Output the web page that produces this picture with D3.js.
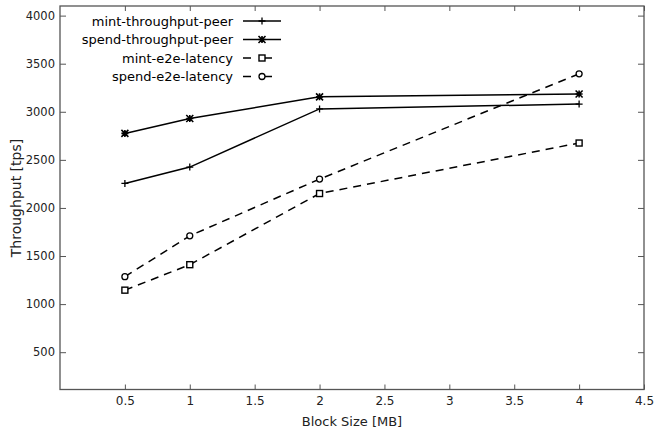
<!DOCTYPE html>
<html>
<head>
<meta charset="utf-8">
<script src="https://cdn.jsdelivr.net/npm/d3@7"></script>
<style>
body { margin: 0; background: #fff; }
text { font-family: "DejaVu Sans", sans-serif; }
</style>
</head>
<body>
<div id="chart"></div>
<script>
var blockSizes = [0.5, 1, 2, 4];
var mintThroughput = [2255, 2425, 3030, 3080];
var spendThroughput = [2775, 2930, 3155, 3185];
var mintLatency = [1145, 1410, 2150, 2675];
var spendLatency = [1285, 1710, 2300, 3395];
var xTicks = [0.5, 1, 1.5, 2, 2.5, 3, 3.5, 4, 4.5];
var yTicks = [500, 1000, 1500, 2000, 2500, 3000, 3500, 4000];

var series = [
	{name: "mint-throughput-peer", values: mintThroughput, dashed: false, mark: "plus"},
	{name: "spend-throughput-peer", values: spendThroughput, dashed: false, mark: "star"},
	{name: "mint-e2e-latency", values: mintLatency, dashed: true, mark: "square"},
	{name: "spend-e2e-latency", values: spendLatency, dashed: true, mark: "circle"}
];

var width = 655, height = 432;
var plotLeft = 60, plotRight = 644, plotTop = 6, plotBottom = 389.5;

var svg = d3.select("#chart").append("svg")
		.attr("width", width)
		.attr("height", height);

var x = d3.scaleLinear().domain([0, 4.5]).range([plotLeft, plotRight]);
var y = d3.scaleLinear().domain([112, 4100]).range([plotBottom, plotTop]);

// axes (ticks inside, mirrored)
var axisColor = "#555";
svg.append("g")
		.attr("transform", "translate(0," + plotBottom + ")")
		.call(d3.axisBottom(x).tickValues(xTicks).tickSizeInner(-5).tickSizeOuter(0).tickPadding(7).tickFormat(d3.format("")))
		.call(function(g) {
			g.select(".domain").remove();
			g.selectAll("line").attr("stroke", axisColor);
			g.selectAll("text").attr("font-size", 12).attr("fill", "#222");
		});
svg.append("g")
		.attr("transform", "translate(0," + plotTop + ")")
		.call(d3.axisTop(x).tickValues(xTicks).tickSizeInner(-5).tickSizeOuter(0).tickFormat(""))
		.call(function(g) {
			g.select(".domain").remove();
			g.selectAll("line").attr("stroke", axisColor);
		});
svg.append("g")
		.attr("transform", "translate(" + plotLeft + ",0)")
		.call(d3.axisLeft(y).tickValues(yTicks).tickSizeInner(-6).tickSizeOuter(0).tickPadding(5).tickFormat(d3.format("d")))
		.call(function(g) {
			g.select(".domain").remove();
			g.selectAll("line").attr("stroke", axisColor);
			g.selectAll("text").attr("font-size", 11.5).attr("fill", "#222");
		});
svg.append("g")
		.attr("transform", "translate(" + plotRight + ",0)")
		.call(d3.axisRight(y).tickValues(yTicks).tickSizeInner(-6).tickSizeOuter(0).tickFormat(""))
		.call(function(g) {
			g.select(".domain").remove();
			g.selectAll("line").attr("stroke", axisColor);
		});

svg.append("rect")
		.attr("x", plotLeft).attr("y", plotTop)
		.attr("width", plotRight - plotLeft).attr("height", plotBottom - plotTop)
		.attr("fill", "none")
		.attr("stroke", axisColor)
		.attr("stroke-width", 1.3);

svg.append("text")
		.attr("x", 352).attr("y", 426)
		.attr("text-anchor", "middle")
		.attr("font-size", 13)
		.attr("fill", "#222")
		.text("Block Size [MB]");
svg.append("text")
		.attr("transform", "translate(20.5,198) rotate(-90)")
		.attr("text-anchor", "middle")
		.attr("font-size", 14)
		.attr("fill", "#222")
		.text("Throughput [tps]");

function drawMark(g, type, cx, cy) {
	var s = 3.5;
	if (type == "plus") {
		g.append("path").attr("d", "M" + (cx - s) + "," + cy + "H" + (cx + s) + "M" + cx + "," + (cy - s) + "V" + (cy + s))
				.attr("stroke", "#000").attr("stroke-width", 1.3);
	} else if (type == "star") {
		g.append("path").attr("d", "M" + (cx - s) + "," + cy + "H" + (cx + s) + "M" + cx + "," + (cy - s) + "V" + (cy + s)
				+ "M" + (cx - s) + "," + (cy - s) + "L" + (cx + s) + "," + (cy + s)
				+ "M" + (cx - s) + "," + (cy + s) + "L" + (cx + s) + "," + (cy - s))
				.attr("stroke", "#000").attr("stroke-width", 1.6);
	} else if (type == "square") {
		g.append("rect").attr("x", cx - 3).attr("y", cy - 3).attr("width", 6).attr("height", 6)
				.attr("fill", "#fff").attr("stroke", "#000").attr("stroke-width", 1.4);
	} else {
		g.append("circle").attr("cx", cx).attr("cy", cy).attr("r", 3)
				.attr("fill", "#fff").attr("stroke", "#000").attr("stroke-width", 1.3);
	}
}

var line = d3.line()
		.x(function(d) {return x(d.x);})
		.y(function(d) {return y(d.y);});

var plot = svg.append("g");
series.forEach(function(s) {
	var pts = blockSizes.map(function(b, i) {return {x: b, y: s.values[i]};});
	plot.append("path")
			.datum(pts)
			.attr("d", line)
			.attr("fill", "none")
			.attr("stroke", "#000")
			.attr("stroke-width", 1.5)
			.attr("stroke-dasharray", s.dashed ? "8,6" : null);
	pts.forEach(function(p) {
		drawMark(plot, s.mark, x(p.x), y(p.y));
	});
});

// legend
var legend = svg.append("g");
var rowY = [21, 39.5, 58, 76.5];
series.forEach(function(s, i) {
	legend.append("text")
			.attr("x", 233).attr("y", rowY[i])
			.attr("dy", "0.35em")
			.attr("text-anchor", "end")
			.attr("font-size", 13)
			.attr("fill", "#000")
			.text(s.name);
	legend.append("line")
			.attr("x1", 243).attr("x2", s.dashed ? 272 : 281)
			.attr("y1", rowY[i]).attr("y2", rowY[i])
			.attr("stroke", "#000")
			.attr("stroke-width", 1.5)
			.attr("stroke-dasharray", s.dashed ? "8,14" : null);
	drawMark(legend, s.mark, 262, rowY[i]);
});
</script>
</body>
</html>
